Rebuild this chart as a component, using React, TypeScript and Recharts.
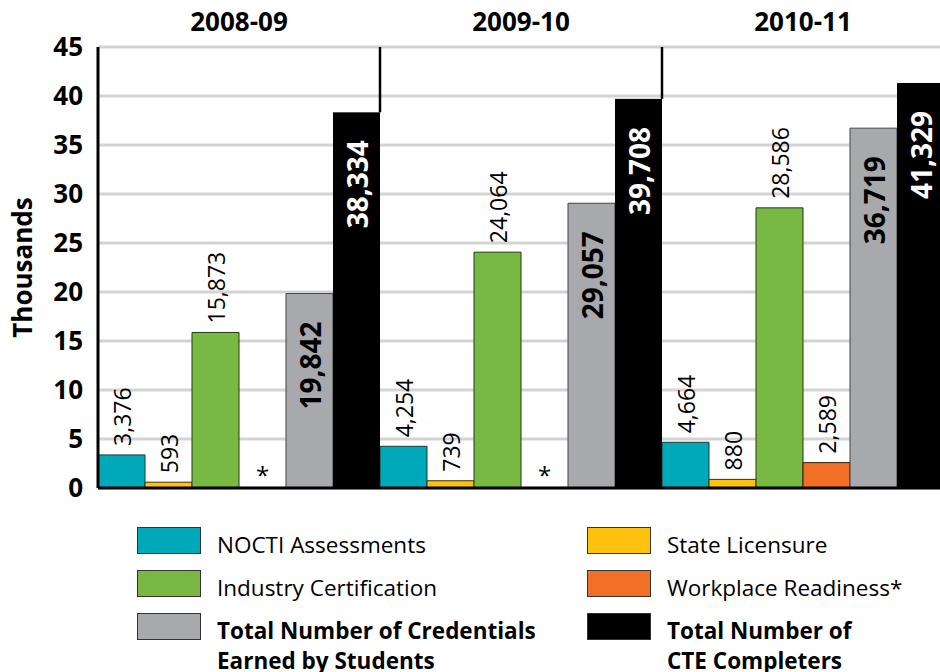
import { BarChart, Bar, XAxis, YAxis, CartesianGrid, ReferenceLine, LabelList } from "recharts";

const years = ["2008-09", "2009-10", "2010-11"];
const nocti = [3376, 4254, 4664];
const licensure = [593, 739, 880];
const industry = [15873, 24064, 28586];
const workplace = [0, 0, 2589];
const credentials = [19842, 29057, 36719];
const completers = [38334, 39708, 41329];
const yTicks = [0, 5000, 10000, 15000, 20000, 25000, 30000, 35000, 40000, 45000];

const FONT = '"Open Sans", sans-serif';

const data = years.map((year, i) => ({
  year,
  nocti: nocti[i],
  licensure: licensure[i],
  industry: industry[i],
  workplace: workplace[i],
  credentials: credentials[i],
  completers: completers[i],
}));

const fmt = (v: number) => v.toLocaleString("en-US");

// small labels sitting above the bar, rotated
const OutsideLabel = (props: any) => {
  const { x, y, width, value } = props;
  if (!value) return null;
  const cx = x + width / 2;
  return (
    <text
      transform={`translate(${cx},${y - 9}) rotate(-90)`}
      textAnchor="start"
      dominantBaseline="central"
      fontSize={23}
      fontFamily={FONT}
      fill="#000"
    >
      {fmt(value)}
    </text>
  );
};

// workplace readiness: "*" where there is no data
const WorkplaceShape = (props: any) => {
  const { x, y, width, height, payload } = props;
  if (!payload || !payload.workplace) {
    return (
      <text x={x + width / 2} y={y - 4} textAnchor="middle" fontSize={24} fontFamily={FONT} fill="#000">
        *
      </text>
    );
  }
  return <rect x={x} y={y} width={width} height={height} fill="#F26F26" stroke="#3a1a0a" strokeWidth={1} />;
};

const insideLabel = (color: string) => (props: any) => {
  const { x, y, width, value } = props;
  const cx = x + width / 2;
  return (
    <text
      transform={`translate(${cx},${y + 28}) rotate(-90)`}
      textAnchor="end"
      dominantBaseline="central"
      fontSize={28}
      fontWeight={700}
      fontFamily={FONT}
      fill={color}
    >
      {fmt(value)}
    </text>
  );
};

// black bar also draws the group separator up to the top of the plot
const CompleterShape = (props: any) => {
  const { x, y, width, height, background } = props;
  const top = background ? background.y : 47;
  return (
    <g>
      <rect x={x} y={y} width={width} height={height} fill="#000" />
      <line x1={x + width} x2={x + width} y1={top} y2={y} stroke="#000" strokeWidth={2.5} />
    </g>
  );
};

const YLabel = (props: any) => {
  const { viewBox } = props;
  const cy = viewBox.y + viewBox.height / 2;
  return (
    <text
      transform={`translate(22,${cy}) rotate(-90)`}
      textAnchor="middle"
      dominantBaseline="central"
      fontSize={26}
      fontWeight={700}
      fontFamily={FONT}
      fill="#000"
    >
      Thousands
    </text>
  );
};

const legendItems = [
  { color: "#00A9BA", label: ["NOCTI Assessments"], bold: false, left: 137, top: 527 },
  { color: "#FFC20E", label: ["State Licensure"], bold: false, left: 587, top: 527 },
  { color: "#7AB844", label: ["Industry Certification"], bold: false, left: 137, top: 570 },
  { color: "#F26F26", label: ["Workplace Readiness*"], bold: false, left: 587, top: 570 },
  { color: "#A7A9AC", label: ["Total Number of Credentials", "Earned by Students"], bold: true, left: 137, top: 613 },
  { color: "#000000", label: ["Total Number of", "CTE Completers"], bold: true, left: 587, top: 613 },
];

export default function App() {
  return (
    <div
      style={{
        position: "absolute",
        left: 0,
        top: 0,
        width: 940,
        height: 672,
        overflow: "hidden",
        background: "#fff",
        fontFamily: FONT,
      }}
    >
      <BarChart
        width={944}
        height={512}
        data={data}
        margin={{ top: 0, right: 0, left: 0, bottom: 24 }}
        barCategoryGap={0}
        barGap={0}
      >
        <CartesianGrid vertical={false} stroke="#d3d3d3" strokeWidth={3} />
        <XAxis
          dataKey="year"
          orientation="top"
          height={47}
          axisLine={false}
          tickLine={false}
          tickMargin={10}
          tick={{ fontSize: 26, fontWeight: 700, fill: "#000", fontFamily: FONT }}
        />
        <YAxis
          width={98}
          domain={[0, 45000]}
          ticks={yTicks}
          interval={0}
          tickFormatter={(v) => String(v / 1000)}
          tickLine={false}
          tickMargin={9}
          axisLine={{ stroke: "#000", strokeWidth: 3 }}
          tick={{ fontSize: 26, fontWeight: 700, fill: "#000", fontFamily: FONT }}
          label={<YLabel />}
        />
        <Bar dataKey="nocti" fill="#00A9BA" stroke="#1a3a3a" strokeWidth={1} isAnimationActive={false}>
          <LabelList dataKey="nocti" content={OutsideLabel} />
        </Bar>
        <Bar dataKey="licensure" fill="#FFC20E" stroke="#3a3000" strokeWidth={1} isAnimationActive={false}>
          <LabelList dataKey="licensure" content={OutsideLabel} />
        </Bar>
        <Bar dataKey="industry" fill="#7AB844" stroke="#203a10" strokeWidth={1} isAnimationActive={false}>
          <LabelList dataKey="industry" content={OutsideLabel} />
        </Bar>
        <Bar dataKey="workplace" fill="#F26F26" shape={<WorkplaceShape />} isAnimationActive={false}>
          <LabelList dataKey="workplace" content={OutsideLabel} />
        </Bar>
        <Bar dataKey="credentials" fill="#A7A9AC" stroke="#444" strokeWidth={1} isAnimationActive={false}>
          <LabelList dataKey="credentials" content={insideLabel("#000")} />
        </Bar>
        <Bar dataKey="completers" fill="#000" shape={<CompleterShape />} isAnimationActive={false}>
          <LabelList dataKey="completers" content={insideLabel("#fff")} />
        </Bar>
        <ReferenceLine y={0} stroke="#000" strokeWidth={3} />
      </BarChart>
      {legendItems.map((item) => (
        <div key={item.label[0]} style={{ position: "absolute", left: item.left, top: item.top }}>
          <div
            style={{
              position: "absolute",
              left: 0,
              top: 0,
              width: 64,
              height: 27,
              background: item.color,
              border: "1px solid #333",
              boxSizing: "border-box",
            }}
          />
          <div
            style={{
              position: "absolute",
              left: 80,
              top: 3,
              whiteSpace: "nowrap",
              fontSize: 22.5,
              lineHeight: "30px",
              fontWeight: item.bold ? 700 : 400,
              color: "#000",
            }}
          >
            {item.label.map((l) => (
              <div key={l}>{l}</div>
            ))}
          </div>
        </div>
      ))}
    </div>
  );
}
